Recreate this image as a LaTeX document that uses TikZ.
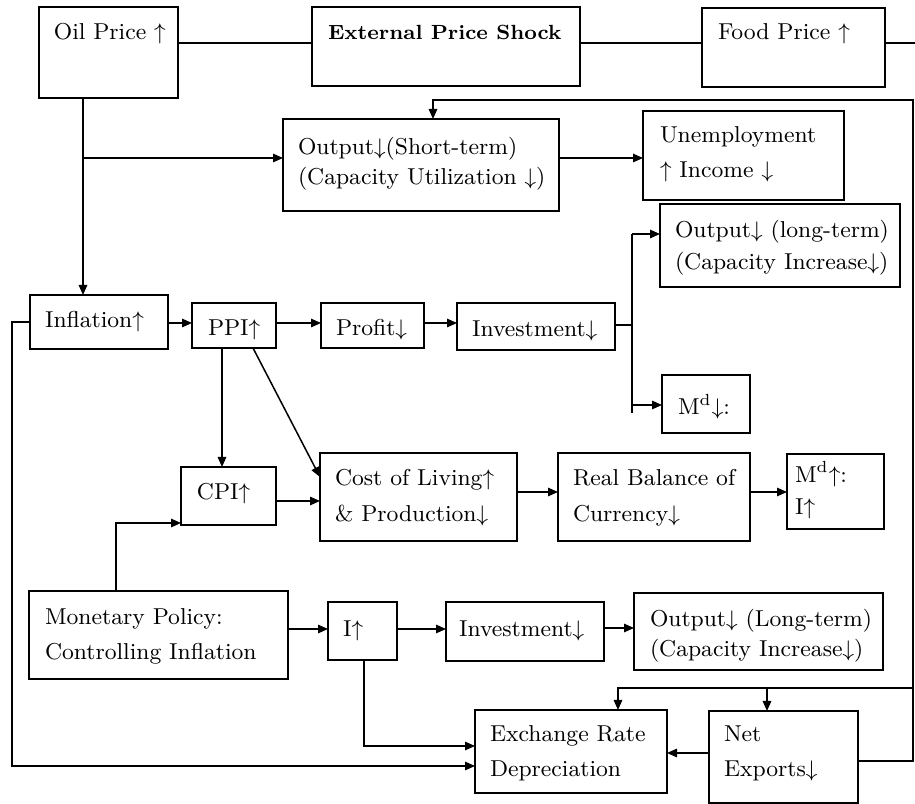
\documentclass[tikz,border=0pt]{standalone}
\usetikzlibrary{arrows.meta}
\tikzset{
  bx/.style={draw, line width=0.6pt, inner sep=0pt, outer sep=0pt, anchor=north west},
  tx/.style={anchor=base west, inner sep=0pt, outer sep=0pt, align=left, font=\fontsize{9.2}{13}\selectfont},
  ln/.style={line width=0.6pt},
  arr/.style={line width=0.6pt, -{Triangle[length=4pt,width=3.4pt]}},
}
\newcommand\mkbox[5]{\node[bx, minimum width={(#4-#2)*0.4pt}, minimum height={(#5-#3)*0.4pt}] (#1) at (#2,#3) {};}
\begin{document}
\begin{tikzpicture}[x=0.4pt,y=-0.4pt]
\useasboundingbox (0,0) rectangle (915,804);
% boxes
\mkbox{oil}{39}{7}{178}{98}
\mkbox{ext}{312}{7}{580}{86}
\mkbox{food}{702}{8}{885}{87}
\mkbox{outs}{283}{119}{559}{211}
\mkbox{unemp}{643}{111}{844}{200}
\mkbox{outl}{660}{204}{900}{287}
\mkbox{infl}{30}{295}{168}{349}
\mkbox{ppi}{192}{303}{276}{348}
\mkbox{prof}{321}{303}{424}{348}
\mkbox{inv}{457}{303}{615}{350}
\mkbox{mdd}{662}{375}{750}{433}
\mkbox{cpi}{181}{467}{276}{525}
\mkbox{cost}{320}{453}{517}{541}
\mkbox{real}{558}{453}{750}{541}
\mkbox{mdu}{787}{454}{884}{529}
\mkbox{mon}{29}{591}{288}{679}
\mkbox{iup}{328}{602}{397}{660}
\mkbox{inv2}{446}{602}{604}{661}
\mkbox{outl2}{634}{593}{883}{670}
\mkbox{exch}{475}{710}{667}{793}
\mkbox{net}{709}{711}{858}{803}
% texts (multi-line nodes are placed by the baseline of their last line)
\node[tx] (toil) at (54,40) {Oil Price $\uparrow$};
\node[tx, font=\fontsize{8.2}{13}\selectfont\bfseries] (text) at (328,40) {External Price Shock};
\node[tx] (tfood) at (718,40) {Food Price $\uparrow$};
\node[tx, font=\fontsize{9.2}{12}\selectfont] (touts) at (298,185) {Output$\downarrow$(Short-term)\\(Capacity Utilization $\downarrow$)};
\node[tx, font=\fontsize{9.2}{14}\selectfont] (tunemp) at (660,178) {Unemployment\\$\uparrow$ Income $\downarrow$};
\node[tx] (toutl) at (675,270) {Output$\downarrow$ (long-term)\\(Capacity Increase$\downarrow$)};
\node[tx] (tinfl) at (45,328) {Inflation$\uparrow$};
\node[tx] (tppi) at (208,336) {PPI$\uparrow$};
\node[tx] (tprof) at (336,336) {Profit$\downarrow$};
\node[tx] (tinv) at (472,337) {Investment$\downarrow$};
\node[tx] (tmdd) at (678,415) {M\textsuperscript{d}$\downarrow$:};
\node[tx] (tcpi) at (197,500) {CPI$\uparrow$};
\node[tx, font=\fontsize{9.2}{14.5}\selectfont] (tcost) at (335,522) {Cost of Living$\uparrow$\\\& Production$\downarrow$};
\node[tx, font=\fontsize{9.2}{14.5}\selectfont] (treal) at (573,522) {Real Balance of\\Currency$\downarrow$};
\node[tx] (tmdu) at (795,515) {M\textsuperscript{d}$\uparrow$:\\I$\uparrow$};
\node[tx, font=\fontsize{9.2}{14}\selectfont] (tmon) at (45,660) {Monetary Policy:\\Controlling Inflation};
\node[tx] (tiup) at (343,637) {I$\uparrow$};
\node[tx] (tinv2) at (459,637) {Investment$\downarrow$};
\node[tx, font=\fontsize{9.2}{12}\selectfont] (toutl2) at (650,657) {Output$\downarrow$ (Long-term)\\(Capacity Increase$\downarrow$)};
\node[tx, font=\fontsize{9.2}{14}\selectfont] (texch) at (490,777) {Exchange Rate\\Depreciation};
\node[tx, font=\fontsize{9.2}{14}\selectfont] (tnet) at (724,777) {Net\\Exports$\downarrow$};
% free-end coordinates
\coordinate (fr) at (915,43);
\coordinate (ja) at (83,158);
\coordinate (rt) at (913,100);
\coordinate (rb) at (913,761);
\coordinate (rm) at (913,688);
\coordinate (jb) at (632,325);
\coordinate (lt) at (12,322);
\coordinate (lb) at (12,766);
\coordinate (ib) at (364,746);
\coordinate (mc) at (116,523);
% connectors
\draw[ln] (oil.east |- 0,43) -- (ext.west |- 0,43);
\draw[ln] (ext.east |- 0,43) -- (food.west |- 0,43);
\draw[ln] (food.east |- 0,43) -- (fr);
\draw[arr] (oil.south -| ja) -- (infl.north -| ja);
\draw[arr] (ja) -- (outs.west |- ja);
\draw[arr] (outs.east |- ja) -- (unemp.west |- ja);
\draw[arr] (net.east |- rb) -- (rb) -- (rt) -- (433,100) -- (outs.north -| 433,0);
\draw[arr] (rm) -- (618,688) -- (exch.north -| 618,0);
\draw[arr] (767,688) -- (net.north -| 767,0);
\draw[arr] (infl.east |- 0,323) -- (ppi.west |- 0,323);
\draw[arr] (ppi.east |- 0,323) -- (prof.west |- 0,323);
\draw[arr] (prof.east |- 0,323) -- (inv.west |- 0,323);
\draw[ln] (inv.east |- jb) -- (jb);
\draw[ln] (632,413) -- (632,234);
\draw[arr] (632,234) -- (outl.west |- 0,234);
\draw[arr] (632,405) -- (mdd.west |- 0,405);
\draw[arr] (ppi.south -| 222,0) -- (cpi.north -| 222,0);
\draw[arr] (ppi.south -| 253,0) -- (cost.west |- 0,477);
\draw[arr] (cpi.east |- 0,501) -- (cost.west |- 0,501);
\draw[arr] (cost.east |- 0,492) -- (real.west |- 0,492);
\draw[arr] (real.east |- 0,492) -- (mdu.west |- 0,492);
\draw[arr] (mon.north -| mc) -- (mc) -- (cpi.west |- mc);
\draw[arr] (mon.east |- 0,629) -- (iup.west |- 0,629);
\draw[arr] (iup.east |- 0,629) -- (inv2.west |- 0,629);
\draw[arr] (inv2.east |- 0,628) -- (outl2.west |- 0,628);
\draw[arr] (iup.south -| ib) -- (ib) -- (exch.west |- ib);
\draw[arr] (infl.west |- lt) -- (lt) -- (lb) -- (exch.west |- lb);
\draw[arr] (net.west |- 0,753) -- (exch.east |- 0,753);
\end{tikzpicture}
\end{document}
